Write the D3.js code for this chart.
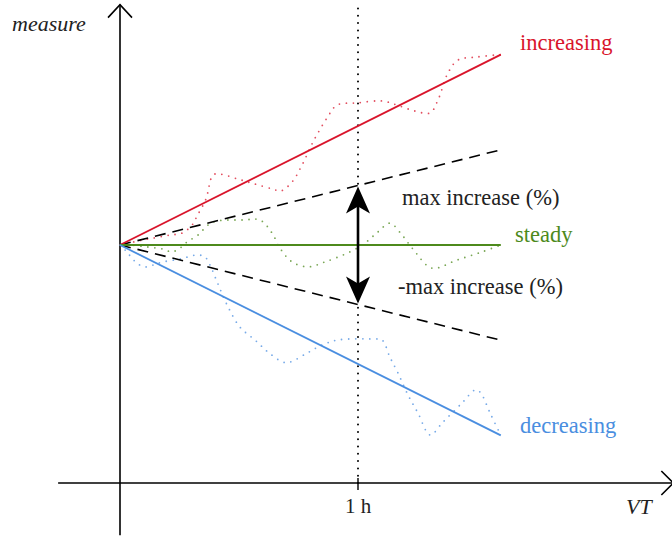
<!DOCTYPE html>
<html lang="en">
<head>
    <meta charset="UTF-8">
    <title>measure vs VT</title>
    <script src="https://cdn.jsdelivr.net/npm/d3@7"></script>
    <style>
        body, html { margin: 0; padding: 0; background: white; overflow: hidden; }
        svg { display: block; }
        text { font-family: "Liberation Serif", "DejaVu Serif", serif; }
    </style>
</head>
<body>
    <svg id="mainsvg"></svg>
    <script>
        // trend lines: [VT (h), measure]
        const increasing = [[0, 1], [1.6, 1.8]];
        const steady = [[0, 1], [1.6, 1]];
        const decreasing = [[0, 1], [1.6, 0.2]];
        const maxUp = [[0, 1], [1.6, 1.4]];
        const maxDown = [[0, 1], [1.6, 0.6]];

        // noisy observations around each trend
        const incNoisy = [[0, 1], [0.076, 1.017], [0.139, 1.029], [0.21, 1.042], [0.261, 1.05], [0.303, 1.084],
            [0.324, 1.122], [0.361, 1.193], [0.391, 1.294], [0.42, 1.298], [0.496, 1.277], [0.567, 1.256],
            [0.643, 1.235], [0.676, 1.227], [0.723, 1.265], [0.765, 1.336], [0.811, 1.433], [0.87, 1.534],
            [0.912, 1.588], [0.996, 1.597], [1.101, 1.605], [1.164, 1.588], [1.239, 1.563], [1.303, 1.555],
            [1.336, 1.609], [1.378, 1.723], [1.42, 1.777], [1.5, 1.79], [1.6, 1.8]];
        const steadyNoisy = [[0, 1], [0.042, 1], [0.113, 0.992], [0.181, 0.983], [0.218, 0.971], [0.252, 0.987],
            [0.282, 1.013], [0.328, 1.042], [0.37, 1.084], [0.408, 1.101], [0.517, 1.105], [0.588, 1.105],
            [0.639, 1.05], [0.672, 0.987], [0.723, 0.929], [0.79, 0.908], [0.861, 0.929], [0.966, 0.971],
            [1.029, 1.008], [1.084, 1.055], [1.134, 1.092], [1.185, 1.042], [1.231, 0.983], [1.311, 0.903],
            [1.416, 0.937], [1.521, 0.971], [1.6, 1]];
        const decNoisy = [[0, 1], [0.029, 0.971], [0.05, 0.945], [0.076, 0.92], [0.105, 0.908], [0.139, 0.916],
            [0.181, 0.929], [0.252, 0.941], [0.324, 0.958], [0.357, 0.95], [0.378, 0.916], [0.408, 0.845],
            [0.45, 0.748], [0.504, 0.655], [0.567, 0.601], [0.622, 0.55], [0.685, 0.508], [0.714, 0.508],
            [0.786, 0.546], [0.849, 0.58], [0.916, 0.601], [1.063, 0.605], [1.101, 0.601], [1.134, 0.529],
            [1.168, 0.462], [1.21, 0.37], [1.252, 0.294], [1.303, 0.202], [1.357, 0.256], [1.437, 0.336],
            [1.492, 0.391], [1.513, 0.382], [1.555, 0.294], [1.6, 0.2]];

        const tickHours = [1];
        const tickLabels = ["1 h"];

        const width = 672, height = 539;
        const svg = d3.select("#mainsvg")
            .attr("width", width)
            .attr("height", height)
            .attr("viewBox", `0 0 ${width} ${height}`);

        // same px per unit on both axes, origin at (120, 483)
        const x = d3.scaleLinear().domain([0, 1]).range([120, 358]);
        const y = d3.scaleLinear().domain([0, 1]).range([483, 245]);

        const red = "#d9142b", green = "#4d8a1c", blue = "#4a8ee0";

        const line = d3.line().x(d => x(d[0])).y(d => y(d[1]));
        const smooth = d3.line().x(d => x(d[0])).y(d => y(d[1])).curve(d3.curveCatmullRom);

        // axes
        const axisX0 = x(-0.26), axisX1 = x(2.325);
        const axisY0 = y(-0.22), axisY1 = y(2.01);
        svg.append("line")
            .attr("x1", axisX0).attr("x2", axisX1)
            .attr("y1", y(0)).attr("y2", y(0))
            .attr("stroke", "black").attr("stroke-width", 1.6);
        svg.append("polyline")
            .attr("points", `${axisX1 - 12},${y(0) - 12} ${axisX1},${y(0)} ${axisX1 - 12},${y(0) + 12}`)
            .attr("fill", "none").attr("stroke", "black").attr("stroke-width", 1.6);
        svg.append("line")
            .attr("x1", x(0)).attr("x2", x(0))
            .attr("y1", axisY0).attr("y2", axisY1)
            .attr("stroke", "black").attr("stroke-width", 1.6);
        svg.append("polyline")
            .attr("points", `${x(0) - 12},${axisY1 + 13} ${x(0)},${axisY1} ${x(0) + 12},${axisY1 + 13}`)
            .attr("fill", "none").attr("stroke", "black").attr("stroke-width", 1.6);

        // tick + label at 1 h
        tickHours.forEach((h, i) => {
            svg.append("line")
                .attr("x1", x(h)).attr("x2", x(h))
                .attr("y1", y(0) - 5).attr("y2", y(0) + 7)
                .attr("stroke", "black").attr("stroke-width", 1.4);
            svg.append("text")
                .attr("x", x(h)).attr("y", 513)
                .attr("text-anchor", "middle")
                .attr("font-size", 21)
                .attr("fill", "#222")
                .text(tickLabels[i]);
        });

        // vertical dotted line at 1 h
        svg.append("line")
            .attr("x1", x(1)).attr("x2", x(1))
            .attr("y1", y(0)).attr("y2", axisY1)
            .attr("stroke", "black").attr("stroke-width", 2)
            .attr("stroke-linecap", "round")
            .attr("stroke-dasharray", "0 7.3");

        // noisy dotted curves
        [[incNoisy, red], [steadyNoisy, green], [decNoisy, blue]].forEach(([d, c]) => {
            svg.append("path")
                .attr("d", smooth(d))
                .attr("fill", "none")
                .attr("stroke", c)
                .attr("stroke-opacity", 0.75)
                .attr("stroke-width", 1.8)
                .attr("stroke-linecap", "round")
                .attr("stroke-dasharray", "0 7");
        });

        // dashed max bounds
        [maxUp, maxDown].forEach(d => {
            svg.append("path")
                .attr("d", line(d))
                .attr("fill", "none")
                .attr("stroke", "black")
                .attr("stroke-width", 1.6)
                .attr("stroke-dasharray", "11 7");
        });

        // trend lines
        [[increasing, red], [steady, green], [decreasing, blue]].forEach(([d, c]) => {
            svg.append("path")
                .attr("d", line(d))
                .attr("fill", "none")
                .attr("stroke", c)
                .attr("stroke-width", 1.8);
        });

        // double arrow between bounds at 1 h
        const upTip = y(1.25) + 1, downTip = y(0.75) - 1, ax = x(1);
        svg.append("line")
            .attr("x1", ax).attr("x2", ax)
            .attr("y1", upTip + 15).attr("y2", downTip - 15)
            .attr("stroke", "black").attr("stroke-width", 2.6);
        const head = (tipY, dir) =>
            `M${ax},${tipY} L${ax + 12},${tipY + dir * 27} L${ax},${tipY + dir * 20} L${ax - 12},${tipY + dir * 27} Z`;
        svg.append("path").attr("d", head(upTip, 1)).attr("fill", "black");
        svg.append("path").attr("d", head(downTip, -1)).attr("fill", "black");

        // labels
        const labels = [
            { text: "increasing", x: 520, y: 50, color: red },
            { text: "max increase (%)", x: 402, y: 205, color: "#222" },
            { text: "steady", x: 515, y: 242, color: green },
            { text: "-max increase (%)", x: 398, y: 294, color: "#222" },
            { text: "decreasing", x: 520, y: 433, color: blue }
        ];
        svg.selectAll("text.lbl")
            .data(labels)
            .join("text")
            .attr("class", "lbl")
            .attr("x", d => d.x).attr("y", d => d.y)
            .attr("fill", d => d.color)
            .attr("font-size", 22.5)
            .text(d => d.text);

        svg.append("text")
            .attr("x", 12).attr("y", 31)
            .attr("font-style", "italic")
            .attr("font-size", 22)
            .attr("fill", "#222")
            .text("measure");
        svg.append("text")
            .attr("x", 626).attr("y", 514)
            .attr("font-style", "italic")
            .attr("font-size", 22)
            .attr("fill", "#222")
            .text("VT");
    </script>
</body>
</html>
